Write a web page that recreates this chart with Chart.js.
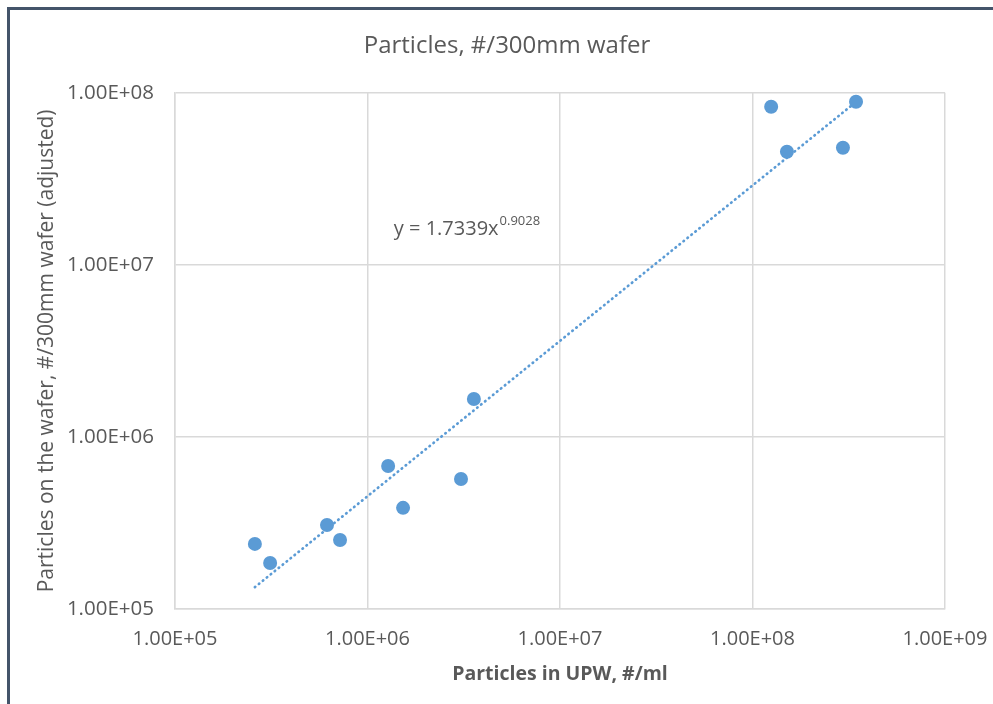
<!DOCTYPE html>
<html><head><meta charset="utf-8">
<script src="https://cdn.jsdelivr.net/npm/chart.js@4"></script>
<style>html,body{margin:0;padding:0;background:#fff}#wrap{width:993px;height:704px;position:relative}</style>
</head><body><div id="wrap"><canvas id="c" width="993" height="704"></canvas></div>
<script>
// ---- data ----
const upwParticles   = [2.60e5, 3.12e5, 6.16e5, 7.20e5, 1.28e6, 1.53e6, 3.06e6, 3.57e6, 1.25e8, 1.51e8, 2.95e8, 3.45e8];
const waferParticles = [2.39e5, 1.85e5, 3.08e5, 2.52e5, 6.78e5, 3.87e5, 5.70e5, 1.66e6, 8.29e7, 4.54e7, 4.79e7, 8.87e7];
const trendX = [2.60e5, 3.45e8];
const trendY = [1.34e5, 8.85e7];
const xTickValues = [1e5, 1e6, 1e7, 1e8, 1e9];
const yTickValues = [1e5, 1e6, 1e7, 1e8];
const titleText = 'Particles, #/300mm wafer';
const xTitle = 'Particles in UPW, #/ml';
const yTitle = 'Particles on the wafer, #/300mm wafer (adjusted)';
const eqMain = 'y = 1.7339x';
const eqSup = '0.9028';
const eqAnchor = {x: 1.37e6, y: 1.49e7};

const FONT = "'Open Sans', sans-serif";
const TXT = '#595959';
const GRID = '#d9d9d9';
const BLUE = '#5b9bd5';

function fmtE(v) {
  const [m, e] = v.toExponential(2).toUpperCase().split('E');
  const sign = e[0] === '-' ? '-' : '+';
  const d = e.replace(/[+-]/, '').padStart(2, '0');
  return m + 'E' + sign + d;
}

const framePlugin = {
  id: 'frame',
  beforeDraw(chart) {
    const ctx = chart.ctx;
    ctx.save();
    ctx.fillStyle = '#fff';
    ctx.fillRect(0, 0, chart.width, chart.height);
    ctx.fillStyle = '#44546a';
    ctx.fillRect(7, 7, chart.width - 7, 3);
    ctx.fillRect(7, 7, 3, chart.height - 7);
    ctx.restore();
  }
};

const eqPlugin = {
  id: 'eq',
  afterDatasetsDraw(chart) {
    const ctx = chart.ctx;
    const x = chart.scales.x.getPixelForValue(eqAnchor.x);
    const y = chart.scales.y.getPixelForValue(eqAnchor.y);
    ctx.save();
    ctx.fillStyle = TXT;
    ctx.textBaseline = 'alphabetic';
    ctx.textAlign = 'left';
    ctx.font = "20px " + FONT;
    ctx.fillText(eqMain, x, y);
    const w = ctx.measureText(eqMain).width;
    ctx.font = "13px " + FONT;
    ctx.fillText(eqSup, x + w + 1, y - 10);
    ctx.restore();
  }
};

new Chart(document.getElementById('c'), {
  type: 'scatter',
  data: {
    datasets: [
      {
        label: 'data',
        data: upwParticles.map((v, i) => ({x: v, y: waferParticles[i]})),
        backgroundColor: BLUE,
        borderWidth: 0,
        pointRadius: 7,
        pointHoverRadius: 7,
        order: 1
      },
      {
        label: 'trend',
        type: 'line',
        data: trendX.map((v, i) => ({x: v, y: trendY[i]})),
        borderColor: BLUE,
        borderWidth: 2.7,
        borderDash: [0.5, 4.6],
        borderCapStyle: 'round',
        pointRadius: 0,
        fill: false,
        order: 2
      }
    ]
  },
  options: {
    responsive: false,
    animation: false,
    devicePixelRatio: 1,
    layout: {padding: {left: 21, right: 0, top: 0, bottom: 0}},
    plugins: {
      legend: {display: false},
      tooltip: {enabled: false},
      title: {
        display: true,
        text: titleText,
        color: TXT,
        font: {family: FONT, size: 24, weight: 'normal'},
        padding: {top: 32, bottom: 32}
      }
    },
    scales: {
      x: {
        type: 'logarithmic',
        min: 1e5, max: 1e9,
        afterBuildTicks(s) { s.ticks = xTickValues.map(v => ({value: v})); },
        afterFit(s) { s.height = 95; s.paddingLeft = 0; s.paddingRight = 48; },
        ticks: {
          color: TXT, font: {family: FONT, size: 20}, padding: 18,
          maxRotation: 0, autoSkip: false,
          callback: v => fmtE(v)
        },
        grid: {color: GRID, lineWidth: 1.5, drawTicks: false},
        border: {color: GRID, width: 1.5},
        title: {
          display: true, text: xTitle, color: TXT,
          font: {family: FONT, size: 19.5, weight: 'bold'},
          padding: {top: 8, bottom: 18}
        }
      },
      y: {
        type: 'logarithmic',
        min: 1e5, max: 1e8,
        afterBuildTicks(s) { s.ticks = yTickValues.map(v => ({value: v})); },
        afterFit(s) { s.width = 154; },
        ticks: {
          color: TXT, font: {family: FONT, size: 20.5}, padding: 21,
          autoSkip: false,
          callback: v => fmtE(v)
        },
        grid: {color: GRID, lineWidth: 1.5, drawTicks: false},
        border: {color: GRID, width: 1.5},
        title: {
          display: true, text: yTitle, color: TXT,
          font: {family: FONT, size: 21, weight: 'normal'},
          padding: {top: 13, bottom: 0}
        }
      }
    }
  },
  plugins: [framePlugin, eqPlugin]
});
</script>
</body></html>
